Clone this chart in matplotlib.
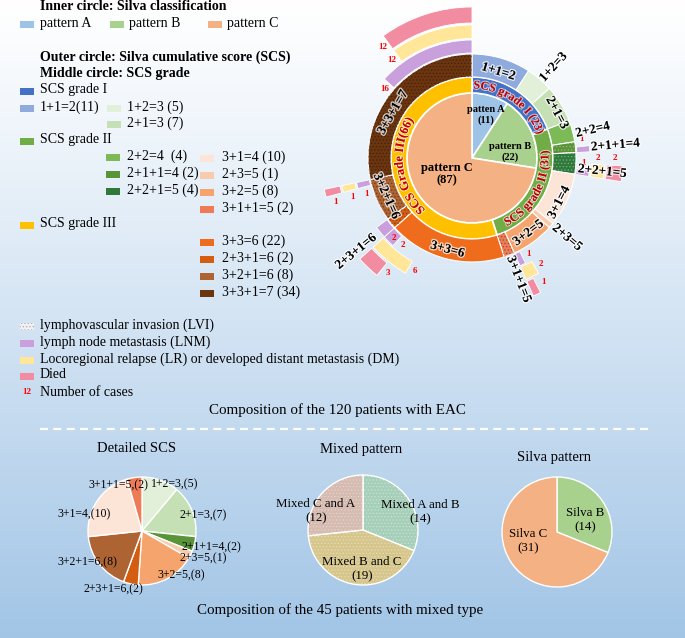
import numpy as np
import matplotlib.pyplot as plt
from matplotlib.patches import Wedge, Rectangle
from matplotlib.font_manager import FontProperties
import matplotlib.patheffects as pe

plt.rcParams['font.family'] = ['Liberation Serif', 'DejaVu Serif']
plt.rcParams['hatch.linewidth'] = 0.6

W, H = 685, 638

# Inner circle: Silva classification
pattern_names = ['patten A\n(11)', 'pattern B\n(22)', 'pattern C\n(87)']
pattern_counts = [11, 22, 87]
pattern_colors = ['#9dc3e6', '#a9d18e', '#f4b183']

# Middle circle: SCS grade
grade_names = ['SCS grade I (23)', 'SCS grade II (31)', 'SCS Grade III(66)']
grade_counts = [23, 31, 66]
grade_colors = ['#4472c4', '#70ad47', '#ffc000']

# Outer circle: Silva cumulative score
scs_labels = ['1+1=2', '1+2=3', '2+1=3', '2+2=4', '2+1+1=4', '2+2+1=5', '3+1=4',
              '2+3=5', '3+2=5', '3+1+1=5', '3+3=6', '2+3+1=6', '3+2+1=6', '3+3+1=7']
scs_counts = [11, 5, 7, 4, 2, 4, 10, 1, 8, 2, 22, 2, 8, 34]
scs_colors = ['#8faadc', '#e2f0d9', '#c5e0b4', '#7cb957', '#5a9438', '#2f7a3a', '#fce4d6',
              '#f8cbad', '#f4a46c', '#ee7b55', '#ef6c1c', '#d35e12', '#ad6332', '#6b3510']
scs_lvi = [0, 0, 0, 0, 1, 1, 0, 0, 0, 1, 0, 1, 1, 1]

# outcome marks per SCS segment
lnm = [0, 0, 0, 0, 1, 1, 0, 0, 1, 0, 2, 2, 1, 16]
relapse = [0, 0, 0, 0, 0, 2, 0, 0, 2, 0, 6, 0, 1, 12]
died = [0, 0, 0, 0, 0, 2, 0, 0, 1, 0, 3, 0, 1, 12]

# 45 patients with mixed type
detail_labels = ['1+2=3,(5)', '2+1=3,(7)', '2+1+1=4,(2)', '2+3=5,(1)', '3+2=5,(8)',
                 '2+3+1=6,(2)', '3+2+1=6,(8)', '3+1=4,(10)', '3+1+1=5,(2)']
detail_counts = [5, 7, 2, 1, 8, 2, 8, 10, 2]
mixed_labels = ['Mixed A and B\n(14)', 'Mixed B and C\n(19)', 'Mixed C and A\n(12)']
mixed_counts = [14, 19, 12]
mixed_colors = ['#a6cfb9', '#d6c68c', '#d5bbb0']
silva_labels = ['Silva B\n(14)', 'Silva C\n(31)']
silva_counts = [14, 31]
silva_colors = ['#a9d18e', '#f4b183']

LNM_C, LR_C, DIED_C = '#c9a0dc', '#ffe699', '#f28ca0'
RED = '#c00000'


def Y(y):
    return H - y


def polar(cx, cy, r, a):
    t = np.radians(a)
    return cx + r * np.sin(t), cy + r * np.cos(t)


fig = plt.figure(figsize=(6.85, 6.38), dpi=100)
ax = fig.add_axes([0, 0, 1, 1])
grad = np.linspace(0, 1, 256) ** 1.1
bg = np.ones((256, 1, 3))
for i, c in enumerate([162, 197, 230]):
    bg[:, 0, i] = 1 - grad * (1 - c / 255)
ax.imshow(bg, extent=(0, W, 0, H), aspect='auto', zorder=0)

# ---------------- sunburst ----------------
cx, cy = 472, Y(158)
wp = dict(edgecolor='white', linewidth=1.2)
ax.pie(pattern_counts, center=(cx, cy), radius=65, startangle=90, counterclock=False,
       colors=pattern_colors, wedgeprops=wp)
ax.pie(grade_counts, center=(cx, cy), radius=81, startangle=90, counterclock=False,
       colors=grade_colors, wedgeprops=dict(width=16, **wp))
outer, _ = ax.pie(scs_counts, center=(cx, cy), radius=104, startangle=90, counterclock=False,
                  colors=scs_colors, wedgeprops=dict(width=23, edgecolor='white', linewidth=0.8))
for w, lvi, col in zip(outer, scs_lvi, scs_colors):
    if lvi:
        hc = (1, 1, 1, 0.3) if col in ('#5a9438', '#2f7a3a') else (0, 0, 0, 0.3)
        ax.add_patch(Wedge(w.center, w.r, w.theta1, w.theta2, width=w.width,
                           facecolor='none', edgecolor=hc, hatch='.....', lw=0, zorder=3))

deg = 360 / sum(scs_counts)
ends = np.cumsum(scs_counts) * deg
for counts, r0, r1, col in [(lnm, 105, 118, LNM_C), (relapse, 119.5, 133, LR_C), (died, 135, 151, DIED_C)]:
    for end, n in zip(ends, counts):
        if n == 0:
            continue
        start = end - n * deg
        ax.add_patch(Wedge((cx, cy), r1, 90 - end, 90 - start, width=r1 - r0,
                           facecolor=col, edgecolor='white', lw=0.6, zorder=3))
        rm = (r0 + r1) / 2
        x, y = polar(cx, cy, rm, start - np.degrees(7 / rm))
        ax.text(x, y, str(n), color='red', fontsize=6.5, fontweight='bold',
                ha='center', va='center', zorder=5)

# outer labels: (radius, angle, mode)
glow = [pe.withStroke(linewidth=2, foreground=(1, 1, 1, 0.7))]
label_layout = [(90, 17, 't'), (122, 42, 'r'), (96, 62, 't'), (124, 77, 'r'), (144, 85, 'r'),
                (131, 96, 'r'), (98, 117, 't'), (124, 130, 'r'), (94, 143, 't'), (130, 159, 'r'),
                (95, 195, 't'), (149, 231, 'r'), (94, 246, 't'), (91, 300, 't')]
for lab, (r, a, mode) in zip(scs_labels, label_layout):
    x, y = polar(cx, cy, r, a)
    rot = -a if mode == 't' else 90 - a
    rot = (rot + 180) % 360 - 180
    if rot > 90:
        rot -= 180
    if rot < -90:
        rot += 180
    ax.text(x, y, lab, rotation=rot, rotation_mode='anchor', ha='center', va='center',
            fontsize=9.5, fontweight='bold', zorder=6, path_effects=glow)

# inner labels
for lab, (dx, dy), fs in zip(pattern_names, [(14, -43), (38, -6), (-25, 16)], [7.5, 7.5, 9]):
    ax.text(cx + dx, cy - dy, lab, ha='center', va='center', fontsize=fs, fontweight='bold',
            linespacing=1.1, zorder=6)

# curved grade labels
fig.canvas.draw()
renderer = fig.canvas.get_renderer()


def curved_text(s, a0, r, cw, size):
    fp = FontProperties(family=['Liberation Serif'], weight='bold', size=size)
    widths = [renderer.get_text_width_height_descent(c, fp, ismath=False)[0] for c in s]
    rb = r - 3.5 if cw else r + 3.5
    pos = 0
    for c, w in zip(s, widths):
        mid = pos + w / 2
        a = a0 + np.degrees(mid / rb) * (1 if cw else -1)
        x, y = polar(cx, cy, rb, a)
        rot = -a if cw else 180 - a
        ax.text(x, y, c, rotation=rot, rotation_mode='anchor', ha='center', va='baseline',
                fontproperties=fp, color=RED, zorder=6,
                path_effects=[pe.withStroke(linewidth=1.5, foreground=(1, 1, 1, 0.6))])
        pos += w


curved_text(grade_names[0], 1, 73, True, 8.6)
curved_text(grade_names[1], 153, 73, False, 8.8)
curved_text(grade_names[2], 222, 73, True, 9)

# ---------------- legend ----------------
def patch(x, y, col, hatch=None, ec='none'):
    ax.add_patch(Rectangle((x, Y(y) - 3.5), 14, 7, facecolor=col, edgecolor=ec, hatch=hatch, lw=0, zorder=4))


def ltext(x, y, s, bold=False):
    ax.text(x, Y(y), s, ha='left', va='center', fontsize=10, fontweight='bold' if bold else 'normal', zorder=5)


ltext(40, 6, 'Inner circle: Silva classification', True)
for (px, tx), name, col in zip([(20, 40), (110, 129), (208, 227)],
                               ['pattern A', 'pattern B', 'pattern C'], pattern_colors):
    patch(px, 24, col)
    ltext(tx, 23, name)
ltext(40, 57, 'Outer circle: Silva cumulative score (SCS)', True)
ltext(40, 73, 'Middle circle: SCS grade', True)

legend_rows = [(20, 40, 90, 'SCS grade I', grade_colors[0]),
               (20, 40, 107, '1+1=2(11)', scs_colors[0]),
               (107, 127, 107, '1+2=3 (5)', scs_colors[1]),
               (107, 127, 123, '2+1=3 (7)', scs_colors[2]),
               (20, 40, 140, 'SCS grade II', grade_colors[1]),
               (106, 127, 156, '2+2=4  (4)', scs_colors[3]),
               (106, 127, 173, '2+1+1=4 (2)', scs_colors[4]),
               (106, 127, 190, '2+2+1=5 (4)', scs_colors[5]),
               (200, 222, 157, '3+1=4 (10)', scs_colors[6]),
               (200, 222, 174, '2+3=5 (1)', scs_colors[7]),
               (200, 222, 191, '3+2=5 (8)', scs_colors[8]),
               (200, 222, 208, '3+1+1=5 (2)', scs_colors[9]),
               (20, 40, 224, 'SCS grade III', grade_colors[2]),
               (200, 222, 241, '3+3=6 (22)', scs_colors[10]),
               (200, 222, 258, '2+3+1=6 (2)', scs_colors[11]),
               (200, 222, 275, '3+2+1=6 (8)', scs_colors[12]),
               (200, 222, 292, '3+3+1=7 (34)', scs_colors[13])]
for px, tx, y, s, col in legend_rows:
    patch(px, y + 1, col)
    ltext(tx, y, s)

patch(20, 326, '#f2f2f2', hatch='.....', ec='#b0b0b0')
ltext(40, 325, 'lymphovascular invasion (LVI)')
patch(20, 343, LNM_C)
ltext(40, 342, 'lymph node metastasis (LNM)')
patch(20, 360, LR_C)
ltext(40, 359, 'Locoregional relapse (LR) or developed distant metastasis (DM)')
patch(20, 376, DIED_C)
ltext(40, 375, 'Died')
ax.text(27, Y(392), '12', color='red', fontsize=6.5, fontweight='bold', ha='center', va='center')
ltext(40, 392, 'Number of cases')

ax.text(337, Y(410), 'Composition of the 120 patients with EAC', ha='center', va='center', fontsize=10.8)
ax.plot([40, 652], [Y(429), Y(429)], color='white', lw=1.6, ls=(0, (3.6, 2.4)), zorder=4)

# ---------------- bottom pies ----------------
dcol = dict(zip(scs_labels, scs_colors))
detail_colors = [dcol[l.split(',')[0]] for l in detail_labels]
pw = dict(edgecolor='white', linewidth=1)
dcx, dcy = 142, Y(531)
ax.pie(detail_counts, center=(dcx, dcy), radius=54, startangle=90, counterclock=False,
       colors=detail_colors, wedgeprops=pw)
detail_offsets = [(33, -47), (61, -16), (69, 16), (61, 27), (39, 44), (-29, 58), (-55, 31), (-58, -17), (-24, -46)]
for lab, (dx, dy) in zip(detail_labels, detail_offsets):
    ax.text(dcx + dx, dcy - dy, lab, ha='center', va='center', fontsize=8.5, zorder=6)

mcx, mcy = 363, Y(530)
mw, _ = ax.pie(mixed_counts, center=(mcx, mcy), radius=55, startangle=90, counterclock=False,
               colors=mixed_colors, wedgeprops=pw)
for w in mw:
    ax.add_patch(Wedge(w.center, w.r, w.theta1, w.theta2, facecolor='none',
                       edgecolor=(1, 1, 1, 0.3), hatch='.....', lw=0, zorder=3))
for lab, (dx, dy) in zip(mixed_labels, [(57, -18), (-1, 39), (-47, -19)]):
    ax.text(mcx + dx, mcy - dy, lab, ha='center', va='center', fontsize=9.3, linespacing=1.2, zorder=6)

scx, scy = 557, Y(532)
ax.pie(silva_counts, center=(scx, scy), radius=55, startangle=90, counterclock=False,
       colors=silva_colors, wedgeprops=pw)
for lab, (dx, dy) in zip(silva_labels, [(28, -12), (-29, 9)]):
    ax.text(scx + dx, scy - dy, lab, ha='center', va='center', fontsize=9.3, linespacing=1.2, zorder=6)

for x, y, s in [(137, 448, 'Detailed SCS'), (361, 450, 'Mixed pattern'), (554, 457, 'Silva pattern')]:
    ax.text(x, Y(y), s, ha='center', va='center', fontsize=10.5)
ax.text(340, Y(610), 'Composition of the 45 patients with mixed type', ha='center', va='center', fontsize=10.8)

ax.set_xlim(0, W)
ax.set_ylim(0, H)
ax.set_aspect('auto')
ax.axis('off')
fig.savefig('out.png', dpi=100)
